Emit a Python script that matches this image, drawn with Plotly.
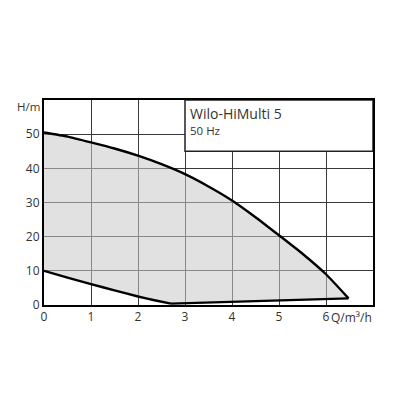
import plotly.graph_objects as go

# Upper (max) pump curve
q_upper = [0, 0.5, 1, 1.5, 2, 2.5, 3, 3.5, 4, 4.5, 5, 5.5, 6, 6.48]
h_upper = [50.5, 49.3, 47.6, 45.8, 43.7, 41.2, 38.3, 34.7, 30.6, 25.7, 20.4, 15.0, 9.0, 1.95]

# Lower (min) pump curve
q_lower = [0, 0.5, 1, 1.5, 2, 2.35, 2.7, 6.48]
h_lower = [10.0, 8.0, 6.1, 4.3, 2.5, 1.4, 0.4, 1.95]

x_ticks = [0, 1, 2, 3, 4, 5, 6]
y_ticks = [0, 10, 20, 30, 40, 50]

title_text = "Wilo-HiMulti 5"
freq_text = "50 Hz"
x_label = "Q/m³/h"
y_label = "H/m"

FONT = "Open Sans"
TXT = "#333333"

fig = go.Figure()

# Shaded operating area
fig.add_trace(go.Scatter(
    x=q_upper + q_lower[::-1],
    y=h_upper + h_lower[::-1],
    mode="lines", fill="toself", fillcolor="rgba(200,200,200,0.55)",
    line=dict(width=0), hoverinfo="skip", showlegend=False,
))
# Curves
fig.add_trace(go.Scatter(x=q_upper, y=h_upper, mode="lines",
                         line=dict(color="black", width=2.4, shape="spline", smoothing=0.5),
                         showlegend=False))
fig.add_trace(go.Scatter(x=q_lower[:-1], y=h_lower[:-1], mode="lines",
                         line=dict(color="black", width=2.4, shape="spline", smoothing=0.5),
                         showlegend=False))
fig.add_trace(go.Scatter(x=q_lower[-2:], y=h_lower[-2:], mode="lines",
                         line=dict(color="black", width=2.4),
                         showlegend=False))

# Title box
fig.add_shape(type="rect", xref="x", yref="y", x0=3, x1=7, y0=45, y1=60,
              fillcolor="white", line=dict(color="#222222", width=1.5), layer="above")
fig.add_annotation(x=3, y=60, xref="x", yref="y", text=title_text, showarrow=False,
                   xanchor="left", yanchor="top", xshift=3, yshift=-2,
                   font=dict(family=FONT, size=14, color=TXT))
fig.add_annotation(x=3, y=60, xref="x", yref="y", text=freq_text, showarrow=False,
                   xanchor="left", yanchor="top", xshift=3, yshift=-21,
                   font=dict(family=FONT, size=11.5, color=TXT))

# Axis titles
fig.add_annotation(x=0, y=60, xref="paper", yref="y", text=y_label, showarrow=False,
                   xanchor="right", yanchor="middle", xshift=-2, yshift=-6,
                   font=dict(family=FONT, size=11.5, color=TXT))
fig.add_annotation(x=1, y=0, xref="paper", yref="y", text=x_label, showarrow=False,
                   xanchor="right", yanchor="top", xshift=1, yshift=-2,
                   font=dict(family=FONT, size=12, color=TXT))

fig.update_xaxes(range=[0, 7], tickvals=x_ticks, ticktext=[str(v) for v in x_ticks],
                 showgrid=True, gridcolor="#3a3a3a", gridwidth=1,
                 showline=True, linecolor="black", linewidth=2, mirror=True,
                 zeroline=False, ticks="", tickfont=dict(family=FONT, size=12, color=TXT),
                 fixedrange=True)
fig.update_yaxes(range=[0, 60], tickvals=y_ticks, ticktext=[str(v) for v in y_ticks],
                 showgrid=True, gridcolor="#3a3a3a", gridwidth=1,
                 showline=True, linecolor="black", linewidth=2, mirror=True,
                 zeroline=False, ticks="", tickfont=dict(family=FONT, size=12, color=TXT),
                 fixedrange=True)

fig.update_layout(width=400, height=400,
                  margin=dict(l=36, r=35, t=92, b=103),
                  plot_bgcolor="white", paper_bgcolor="white",
                  font=dict(family=FONT, color=TXT))

fig.write_html("out.html")
